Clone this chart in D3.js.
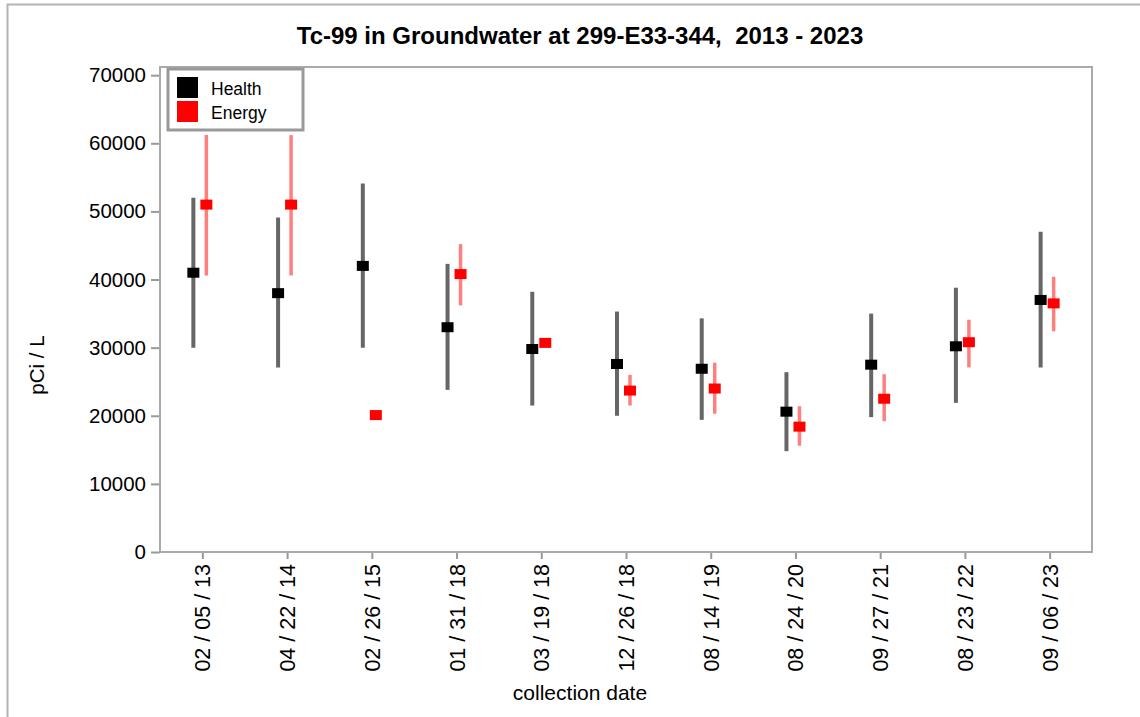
<!DOCTYPE html>
<html>
<head>
<meta charset="utf-8">
<script src="https://cdn.jsdelivr.net/npm/d3@7"></script>
<style>
html,body{margin:0;padding:0;background:#fff;}
svg{display:block;font-family:Arial,"Liberation Sans",sans-serif;}
</style>
</head>
<body>
<svg id="chart" width="1140" height="717"></svg>
<script>
const dates = ["02 / 05 / 13","04 / 22 / 14","02 / 26 / 15","01 / 31 / 18","03 / 19 / 18","12 / 26 / 18","08 / 14 / 19","08 / 24 / 20","09 / 27 / 21","08 / 23 / 22","09 / 06 / 23"];
const healthVal = [41000, 38000, 42000, 33000, 29800, 27600, 26900, 20600, 27500, 30200, 37000];
const healthLo  = [30000, 27100, 30000, 23800, 21500, 20000, 19400, 14800, 19800, 21900, 27100];
const healthHi  = [52000, 49100, 54100, 42300, 38200, 35300, 34300, 26400, 35000, 38800, 47000];
const energyVal = [51000, 51000, 20100, 40800, 30700, 23700, 24000, 18400, 22500, 30800, 36500];
const energyLo  = [40600, 40600, 20100, 36200, 30700, 21500, 20300, 15600, 19200, 27100, 32400];
const energyHi  = [61200, 61200, 20100, 45200, 30700, 26000, 27800, 21400, 26100, 34100, 40400];
const yTicks = [0, 10000, 20000, 30000, 40000, 50000, 60000, 70000];
const seriesNames = ["Health", "Energy"];

const svg = d3.select("#chart");
const L = 160, R = 1092, T = 67, B = 552;

// outer border
svg.append("path").attr("d", "M7.5,717 V4.5 H1140").attr("fill","none").attr("stroke","#b4b4b4").attr("stroke-width",2);

const x = d3.scalePoint().domain(dates).range([L, R]).padding(0.5);
const y = d3.scaleLinear().domain([0, 71200]).range([B, T]);

// axes
const yAxis = svg.append("g").attr("transform", `translate(${L},0)`)
  .call(d3.axisLeft(y).tickValues(yTicks).tickSize(9).tickPadding(5).tickFormat(d3.format("d")));
const xAxis = svg.append("g").attr("transform", `translate(0,${B})`)
  .call(d3.axisBottom(x).tickSize(7).tickPadding(6));
[yAxis, xAxis].forEach(g => {
  g.select(".domain").remove();
  g.selectAll(".tick line").attr("stroke", "#999").attr("stroke-width", 2);
  g.selectAll(".tick text").attr("fill", "#000").style("font-size", "20.5px").style("font-family", "Arial, 'Liberation Sans', sans-serif");
});
xAxis.selectAll(".tick text")
  .style("font-size", "21.5px")
  .attr("transform", "rotate(-90)")
  .attr("text-anchor", "end")
  .attr("dy", "0.35em")
  .attr("x", -12)
  .attr("y", 0);

// plot frame
svg.append("rect").attr("x", L).attr("y", T).attr("width", R - L).attr("height", B - T)
  .attr("fill", "none").attr("stroke", "#aaa").attr("stroke-width", 2);

const hOff = -9, eOff = 4;
const idx = d3.range(dates.length);

// health error bars
svg.append("g").selectAll("line").data(idx).join("line")
  .attr("x1", i => x(dates[i]) + hOff).attr("x2", i => x(dates[i]) + hOff)
  .attr("y1", i => y(healthLo[i])).attr("y2", i => y(healthHi[i]))
  .attr("stroke", "#666").attr("stroke-width", 4);
// energy error bars
svg.append("g").selectAll("line").data(idx).join("line")
  .attr("x1", i => x(dates[i]) + eOff).attr("x2", i => x(dates[i]) + eOff)
  .attr("y1", i => y(energyLo[i])).attr("y2", i => y(energyHi[i]))
  .attr("stroke", "#ff7f7f").attr("stroke-width", 3.5);

const mw = 12, mh = 10;
svg.append("g").selectAll("rect").data(idx).join("rect")
  .attr("x", i => x(dates[i]) + hOff - mw / 2).attr("y", i => y(healthVal[i]) - mh / 2)
  .attr("width", mw).attr("height", mh).attr("fill", "#000");
svg.append("g").selectAll("rect").data(idx).join("rect")
  .attr("x", i => x(dates[i]) + eOff - mw / 2).attr("y", i => y(energyVal[i]) - mh / 2)
  .attr("width", mw).attr("height", mh).attr("fill", "#f00");

// legend
const lg = svg.append("g");
lg.append("rect").attr("x", 168).attr("y", 69).attr("width", 135).attr("height", 61)
  .attr("fill", "#fff").attr("stroke", "#999").attr("stroke-width", 3);
const lcol = ["#000", "#f00"];
seriesNames.forEach((n, i) => {
  lg.append("rect").attr("x", 177).attr("y", 77 + i * 24).attr("width", 21).attr("height", 21).attr("fill", lcol[i]);
  lg.append("text").attr("x", 211).attr("y", 95 + i * 24).text(n)
    .style("font-size", "17.5px").attr("fill", "#000");
});

// titles
svg.append("text").attr("x", 580).attr("y", 44).attr("text-anchor", "middle")
  .style("font-size", "24px").style("font-weight", "bold").text("Tc-99 in Groundwater at 299-E33-344,  2013 - 2023")
  .attr("xml:space", "preserve").style("white-space", "pre");
svg.append("text").attr("x", 580).attr("y", 700).attr("text-anchor", "middle")
  .style("font-size", "21px").text("collection date");
svg.append("text").attr("transform", "translate(44,365) rotate(-90)").attr("text-anchor", "middle")
  .style("font-size", "20.5px").text("pCi / L");
</script>
</body>
</html>
